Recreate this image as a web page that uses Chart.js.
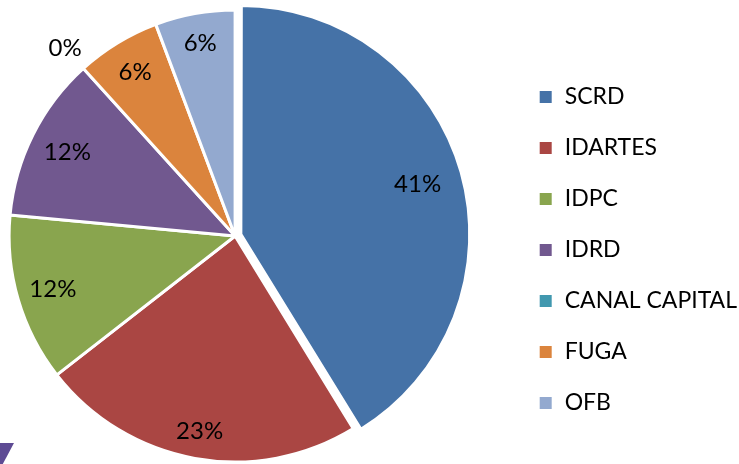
<!DOCTYPE html>
<html>
<head>
<meta charset="utf-8">
<script src="https://cdn.jsdelivr.net/npm/chart.js@4"></script>
<style>
    body { margin: 0; background: #FFFFFF; }
    #wrap { position: relative; width: 739px; height: 464px; overflow: hidden; }
    /* canvas is a bit wider/taller than the page so the pie sits left and low like the original */
    #pieChart { position: absolute; left: -40px; top: 0; }
    /* stray purple corner shape in the original screenshot */
    #corner {
        position: absolute; left: 0; top: 443px; width: 14px; height: 21px;
        background: #5E4B94;
        clip-path: polygon(0 0, 100% 0, 20% 100%, 0 100%);
    }
</style>
</head>
<body>
<div id="wrap">
    <canvas id="pieChart" width="787" height="472"></canvas>
    <div id="corner"></div>
</div>
<script>
// ==========================================
// Share per entity - pie
// ==========================================

const entities = ["SCRD", "IDARTES", "IDPC", "IDRD", "CANAL CAPITAL", "FUGA", "OFB"];
const shares = [41.2, 23.2, 12.0, 11.8, 0, 6.0, 5.7];
const sliceColors = ["#4572A7", "#AA4643", "#89A54E", "#71588F", "#4198AF", "#DB843D", "#93A9CF"];

// percentage labels placed on each slice
const pctLabels = {
    id: "pctLabels",
    afterDatasetsDraw(chart, args, opts) {
        const ctx = chart.ctx;
        const meta = chart.getDatasetMeta(0);
        const data = chart.data.datasets[0].data;
        const total = data.reduce((a, b) => a + b, 0);

        ctx.save();
        ctx.font = "24px Lato";
        ctx.fillStyle = "#000000";
        ctx.textAlign = "center";
        ctx.textBaseline = "middle";

        meta.data.forEach((arc, i) => {
            const p = arc.getProps(["x", "y", "startAngle", "endAngle", "outerRadius"], true);
            const mid = (p.startAngle + p.endAngle) / 2;
            const circ = p.endAngle - p.startAngle;
            const off = (arc.options.offset || 0) / 4 * (2 - Math.sin(Math.min(Math.PI, circ)));
            const r = p.outerRadius * opts.radius[i] + off;
            const txt = Math.round(data[i] / total * 100) + "%";
            ctx.fillText(txt, p.x + Math.cos(mid) * r, p.y + Math.sin(mid) * r);
        });

        ctx.restore();
    }
};

const pieChart = new Chart(
    document.getElementById("pieChart"),
    {
        type: "pie",

        data: {
            labels: entities,
            datasets: [{
                data: shares,
                backgroundColor: sliceColors,
                borderColor: "#FFFFFF",
                borderWidth: 3,
                offset: [24, 0, 0, 0, 0, 0, 0],
                radius: 226
            }]
        },

        options: {
            responsive: false,
            animation: false,

            plugins: {
                tooltip: { enabled: false },
                legend: {
                    position: "right",
                    title: {
                        display: true,
                        text: "",
                        padding: { top: 13.6, bottom: 0 }
                    },
                    labels: {
                        boxWidth: 15,
                        boxHeight: 15,
                        padding: 28,
                        color: "#000000",
                        font: { family: "Lato", size: 23 }
                    }
                },
                pctLabels: {
                    radius: [0.80, 0.88, 0.84, 0.83, 1.12, 0.85, 0.865]
                }
            }
        },

        plugins: [pctLabels]
    }
);
</script>
</body>
</html>
